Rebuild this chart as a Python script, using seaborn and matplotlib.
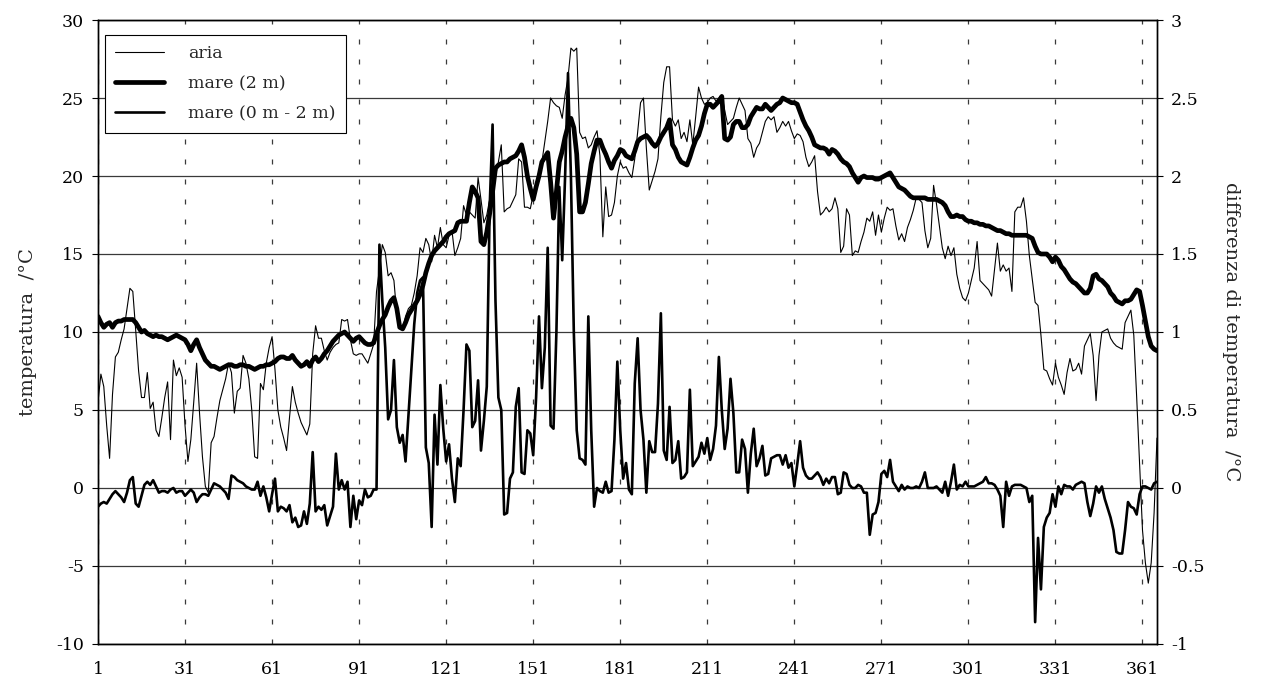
import numpy as np
import pandas as pd
import matplotlib
matplotlib.use("Agg")
import matplotlib.pyplot as plt
import seaborn as sns

# Daily series, day 1 .. 366
days = list(range(1, 367))

# air temperature (°C)
aria = [
    5.5, 7.3, 6.5, 4.0, 1.9, 6.0, 8.4, 8.7, 9.5, 10.2,
    11.5, 12.8, 12.6, 10.1, 7.5, 5.8, 5.8, 7.4, 5.1, 5.5,
    3.7, 3.3, 4.5, 5.8, 6.8, 3.1, 8.2, 7.2, 7.7, 7.1,
    4.0, 1.7, 3.1, 5.5, 8.0, 4.8, 2.0, 0.1, -0.3, 2.9,
    3.3, 4.5, 5.6, 6.3, 7.0, 8.0, 7.4, 4.8, 6.2, 6.4,
    8.5, 8.0, 7.0, 5.0, 2.0, 1.9, 6.7, 6.3, 8.0, 9.0,
    9.7, 7.6, 5.0, 3.9, 3.2, 2.4, 4.5, 6.5, 5.5, 4.8,
    4.2, 3.8, 3.4, 4.1, 8.6, 10.4, 9.6, 9.6, 8.8, 8.2,
    8.7, 9.0, 9.2, 9.3, 10.8, 10.7, 10.8, 9.5, 8.6, 8.5,
    8.6, 8.6, 8.3, 8.0, 8.6, 9.2, 12.6, 14.0, 15.6, 15.1,
    13.6, 13.8, 13.3, 11.1, 10.5, 10.2, 11.0, 11.5, 11.7, 12.5,
    13.6, 15.4, 15.1, 16.0, 15.6, 14.5, 16.2, 15.4, 16.7, 15.6,
    15.4, 16.2, 16.5, 14.9, 15.4, 16.0, 18.1, 17.5, 17.7, 17.5,
    17.3, 19.9, 18.5, 17.0, 17.5, 18.5, 19.0, 20.0, 20.9, 22.0,
    17.7, 17.9, 18.0, 18.4, 18.8, 21.1, 20.9, 18.0, 18.0, 17.9,
    18.8, 19.6, 20.3, 20.9, 22.2, 23.5, 25.0, 24.7, 24.5, 24.4,
    23.7, 25.2, 26.3, 28.2, 28.0, 28.2, 22.8, 22.4, 22.5, 21.8,
    22.0, 22.5, 22.9, 21.3, 16.1, 19.3, 17.4, 17.5, 18.3, 20.0,
    20.9, 20.5, 20.6, 20.2, 19.9, 21.1, 22.8, 24.7, 25.0, 21.8,
    19.1, 19.7, 20.3, 21.1, 23.8, 26.0, 27.0, 27.0, 23.6, 23.2,
    23.6, 22.4, 22.8, 22.2, 23.6, 22.0, 23.8, 25.7, 25.0, 24.6,
    24.7, 25.0, 25.1, 24.8, 25.0, 25.2, 24.2, 23.3, 23.5, 23.7,
    24.4, 25.0, 24.6, 24.2, 22.4, 22.1, 21.2, 21.8, 22.1, 22.8,
    23.5, 23.8, 23.6, 23.8, 22.8, 23.1, 23.5, 23.2, 23.5, 22.9,
    22.4, 22.7, 22.6, 22.2, 21.2, 20.6, 20.9, 21.3, 19.0, 17.5,
    17.7, 18.0, 17.7, 17.9, 18.6, 17.9, 15.1, 15.5, 17.9, 17.5,
    14.9, 15.2, 15.1, 15.8, 16.4, 17.3, 17.1, 17.7, 16.2, 17.5,
    16.4, 17.3, 18.0, 17.8, 17.9, 16.8, 15.9, 16.3, 15.8, 16.7,
    17.2, 17.8, 18.6, 18.5, 18.3, 16.5, 15.4, 16.0, 19.4, 18.2,
    16.8, 15.4, 14.7, 15.5, 14.9, 15.4, 13.7, 12.8, 12.2, 12.0,
    12.5, 13.3, 14.1, 15.8, 13.3, 13.1, 12.9, 12.7, 12.3, 14.0,
    15.7, 13.9, 14.3, 13.9, 14.1, 12.6, 17.7, 18.0, 18.0, 18.6,
    17.1, 14.9, 13.4, 11.9, 11.7, 9.8, 7.6, 7.5, 7.0, 6.6,
    8.0, 7.1, 6.6, 6.0, 7.4, 8.3, 7.5, 7.6, 8.0, 7.3,
    9.1, 9.5, 9.9, 8.5, 5.6, 8.5, 10.0, 10.1, 10.2, 9.6,
    9.3, 9.1, 9.0, 8.9, 10.6, 11.0, 11.4, 9.8, 5.8, 1.5,
    -2.7, -4.8, -6.1, -4.8, -1.6, 3.2,
]

# sea temperature at 2 m depth (°C)
mare_2m = [
    11.0, 10.6, 10.3, 10.5, 10.6, 10.3, 10.6, 10.7, 10.7, 10.8,
    10.8, 10.8, 10.8, 10.6, 10.3, 10.0, 10.1, 9.9, 9.8, 9.7,
    9.8, 9.7, 9.7, 9.6, 9.5, 9.6, 9.7, 9.8, 9.7, 9.6,
    9.5, 9.2, 8.8, 9.2, 9.5, 9.0, 8.6, 8.2, 8.0, 7.8,
    7.8, 7.7, 7.6, 7.7, 7.8, 7.9, 7.9, 7.8, 7.8, 7.9,
    7.9, 7.8, 7.8, 7.7, 7.6, 7.7, 7.8, 7.8, 7.9, 7.9,
    8.0, 8.1, 8.3, 8.4, 8.4, 8.3, 8.3, 8.5, 8.2, 8.0,
    7.8, 7.9, 8.1, 7.8, 8.2, 8.4, 8.1, 8.3, 8.6, 8.8,
    9.1, 9.4, 9.6, 9.8, 9.9, 10.0, 9.8, 9.6, 9.4, 9.6,
    9.7, 9.5, 9.3, 9.2, 9.2, 9.3, 9.9, 10.4, 10.8, 11.1,
    11.6, 12.0, 12.2, 11.5, 10.3, 10.2, 10.6, 11.1, 11.4, 11.7,
    12.0, 12.4, 13.0, 13.8, 14.4, 14.9, 15.2, 15.4, 15.6, 15.8,
    16.1, 16.3, 16.4, 16.5, 17.0, 17.1, 17.1, 17.1, 18.3, 19.3,
    19.0, 18.6, 15.8, 15.6, 16.4, 17.6, 19.0, 20.5, 20.7, 20.8,
    20.9, 20.9, 21.1, 21.2, 21.3, 21.6, 22.0, 21.2, 20.0, 19.2,
    18.5, 19.3, 20.0, 20.9, 21.2, 21.5, 19.6, 17.3, 19.0, 20.9,
    21.6, 22.5, 23.2, 23.7, 23.1, 21.4, 17.7, 17.7, 18.3, 19.5,
    20.8, 21.6, 22.3, 22.3, 21.8, 21.4, 20.9, 20.5, 21.0, 21.3,
    21.7, 21.6, 21.3, 21.2, 21.1, 21.6, 22.2, 22.4, 22.5, 22.6,
    22.4, 22.1, 21.9, 22.1, 22.5, 22.8, 23.1, 23.6, 22.0, 21.7,
    21.2, 20.9, 20.8, 20.7, 21.2, 21.8, 22.3, 22.6, 23.2, 24.0,
    24.6, 24.6, 24.4, 24.6, 24.8, 25.1, 22.4, 22.3, 22.5, 23.3,
    23.5, 23.5, 23.1, 23.1, 23.3, 23.8, 24.1, 24.4, 24.3, 24.3,
    24.6, 24.4, 24.2, 24.4, 24.6, 24.7, 25.0, 24.9, 24.8, 24.7,
    24.7, 24.6, 24.1, 23.6, 23.2, 22.9, 22.5, 22.0, 21.9, 21.8,
    21.8, 21.7, 21.4, 21.7, 21.6, 21.4, 21.1, 20.9, 20.8, 20.6,
    20.2, 19.9, 19.6, 19.9, 20.0, 19.9, 19.9, 19.9, 19.8, 19.8,
    19.9, 20.0, 20.1, 20.2, 19.9, 19.6, 19.3, 19.2, 19.1, 18.9,
    18.7, 18.6, 18.6, 18.6, 18.6, 18.6, 18.5, 18.5, 18.5, 18.5,
    18.4, 18.3, 18.1, 17.7, 17.4, 17.4, 17.5, 17.4, 17.4, 17.2,
    17.1, 17.1, 17.0, 17.0, 16.9, 16.9, 16.8, 16.8, 16.7, 16.6,
    16.5, 16.5, 16.4, 16.3, 16.3, 16.2, 16.2, 16.2, 16.2, 16.2,
    16.2, 16.1, 16.0, 15.5, 15.1, 15.0, 15.0, 15.0, 14.8, 14.5,
    14.8, 14.6, 14.2, 14.0, 13.7, 13.4, 13.2, 13.1, 12.9, 12.7,
    12.5, 12.5, 12.8, 13.6, 13.7, 13.4, 13.3, 13.1, 12.9, 12.5,
    12.3, 12.0, 11.9, 11.8, 12.0, 12.0, 12.1, 12.4, 12.7, 12.6,
    11.7, 10.7, 9.7, 9.1, 8.9, 8.8,
]

# temperature difference between 0 m and 2 m (°C, right axis)
mare_diff = [
    -0.12, -0.10, -0.09, -0.10, -0.07, -0.04, -0.02, -0.04, -0.06, -0.09,
    -0.03, 0.05, 0.07, -0.10, -0.12, -0.05, 0.02, 0.04, 0.02, 0.05,
    0.01, -0.03, -0.02, -0.02, -0.03, -0.01, 0.00, -0.03, -0.02, -0.02,
    -0.05, -0.03, -0.01, -0.03, -0.09, -0.06, -0.04, -0.04, -0.05, -0.01,
    0.03, 0.02, 0.01, -0.01, -0.03, -0.07, 0.08, 0.07, 0.05, 0.04,
    0.03, 0.01, 0.00, -0.01, -0.01, 0.04, -0.05, 0.01, -0.06, -0.15,
    -0.04, 0.06, -0.15, -0.12, -0.13, -0.15, -0.11, -0.22, -0.19, -0.25,
    -0.24, -0.15, -0.23, -0.10, 0.23, -0.15, -0.12, -0.14, -0.11, -0.24,
    -0.18, -0.12, 0.22, -0.01, 0.05, -0.01, 0.04, -0.25, -0.05, -0.20,
    -0.08, -0.11, -0.01, -0.06, -0.05, -0.01, -0.01, 1.56, 1.20, 0.90,
    0.44, 0.50, 0.82, 0.39, 0.29, 0.34, 0.17, 0.46, 0.75, 1.05,
    1.25, 1.33, 1.35, 0.26, 0.16, -0.25, 0.47, 0.15, 0.66, 0.38,
    0.17, 0.28, 0.06, -0.09, 0.19, 0.14, 0.50, 0.92, 0.88, 0.39,
    0.43, 0.69, 0.24, 0.43, 0.65, 1.80, 2.33, 1.20, 0.58, 0.50,
    -0.17, -0.16, 0.06, 0.10, 0.52, 0.64, 0.10, 0.09, 0.37, 0.35,
    0.21, 0.58, 1.10, 0.64, 0.90, 1.54, 0.40, 0.38, 1.00, 1.93,
    1.46, 2.00, 2.66, 2.00, 1.00, 0.37, 0.19, 0.18, 0.15, 1.10,
    0.37, -0.12, 0.00, -0.02, -0.03, 0.04, -0.03, -0.02, 0.31, 0.81,
    0.37, 0.06, 0.16, -0.01, -0.04, 0.67, 0.96, 0.50, 0.31, -0.03,
    0.30, 0.23, 0.23, 0.54, 1.12, 0.24, 0.18, 0.52, 0.16, 0.18,
    0.30, 0.06, 0.07, 0.10, 0.63, 0.14, 0.17, 0.20, 0.29, 0.22,
    0.32, 0.18, 0.25, 0.40, 0.84, 0.50, 0.25, 0.38, 0.70, 0.48,
    0.10, 0.10, 0.31, 0.25, -0.03, 0.22, 0.38, 0.14, 0.19, 0.27,
    0.08, 0.09, 0.19, 0.20, 0.21, 0.21, 0.15, 0.21, 0.13, 0.16,
    0.01, 0.15, 0.30, 0.13, 0.08, 0.06, 0.06, 0.08, 0.10, 0.07,
    0.02, 0.06, 0.03, 0.07, 0.07, -0.04, -0.03, 0.10, 0.09, 0.02,
    0.00, 0.00, 0.02, 0.01, -0.03, -0.03, -0.30, -0.17, -0.16, -0.09,
    0.09, 0.11, 0.07, 0.18, 0.04, 0.01, -0.02, 0.02, -0.01, 0.01,
    0.00, 0.00, 0.01, 0.00, 0.04, 0.10, 0.00, 0.00, 0.00, 0.01,
    -0.01, -0.03, 0.04, -0.05, 0.04, 0.15, -0.01, 0.02, 0.01, 0.04,
    0.01, 0.01, 0.01, 0.02, 0.03, 0.04, 0.07, 0.03, 0.03, 0.02,
    -0.01, -0.05, -0.25, 0.04, -0.05, 0.01, 0.02, 0.02, 0.02, 0.01,
    0.00, -0.09, -0.05, -0.86, -0.32, -0.65, -0.25, -0.19, -0.16, -0.04,
    -0.12, 0.01, -0.04, 0.02, 0.01, 0.01, -0.01, 0.02, 0.03, 0.04,
    0.03, -0.09, -0.18, -0.10, 0.01, -0.03, 0.01, -0.07, -0.13, -0.19,
    -0.27, -0.41, -0.42, -0.42, -0.27, -0.09, -0.12, -0.13, -0.17, -0.04,
    0.01, 0.01, 0.00, -0.01, 0.03, 0.04,
]

x_ticks = [1, 31, 61, 91, 121, 151, 181, 211, 241, 271, 301, 331, 361]
left_ticks = [-10, -5, 0, 5, 10, 15, 20, 25, 30]
right_ticks = [-1, -0.5, 0, 0.5, 1, 1.5, 2, 2.5, 3]
right_labels = ["-1", "-0.5", "0", "0.5", "1", "1.5", "2", "2.5", "3"]

df = pd.DataFrame({"giorno": days, "aria": aria, "mare": mare_2m, "diff": mare_diff})

sns.set_style("white")
plt.rcParams["font.family"] = ["DejaVu Serif"]
plt.rcParams["font.size"] = 12.5

fig, ax = plt.subplots(figsize=(12.66, 6.90), dpi=100)
fig.subplots_adjust(left=0.0774, right=0.9139, top=0.971, bottom=0.0667)
ax2 = ax.twinx()

sns.lineplot(data=df, x="giorno", y="aria", ax=ax, color="black", lw=0.8,
             label="aria", legend=False)
sns.lineplot(data=df, x="giorno", y="mare", ax=ax, color="black", lw=3.4,
             label="mare (2 m)", legend=False)
sns.lineplot(data=df, x="giorno", y="diff", ax=ax2, color="black", lw=1.9,
             label="mare (0 m - 2 m)", legend=False)

ax.set_xlim(1, 366)
ax.set_ylim(-10, 30)
ax2.set_ylim(-1, 3)

ax.set_xticks(x_ticks)
ax.set_yticks(left_ticks)
ax.set_yticklabels([str(v) for v in left_ticks])
ax2.set_yticks(right_ticks)
ax2.set_yticklabels(right_labels)

ax.set_axisbelow(True)
ax.yaxis.grid(True, color="#3a3a3a", lw=0.9, ls="-")
ax.xaxis.grid(True, color="#3a3a3a", lw=0.9, ls=(0, (4, 12)))

for a in (ax, ax2):
    for s in a.spines.values():
        s.set_color("black")
        s.set_linewidth(1.0)
ax.tick_params(axis="both", direction="out", length=4, width=0.8, colors="black",
               labelsize=12.5, pad=6)
ax.tick_params(axis="x", pad=8)
ax2.tick_params(axis="y", direction="out", length=4, width=0.8, colors="black",
                labelsize=12.5, pad=6)

ax.set_xlabel("")
ax.set_ylabel("temperatura  /°C", fontsize=14, labelpad=14)
ax2.set_ylabel("differenza di temperatura  /°C", fontsize=14, rotation=270,
               labelpad=26)

h1, l1 = ax.get_legend_handles_labels()
h2, l2 = ax2.get_legend_handles_labels()
leg = ax2.legend(h1 + h2, l1 + l2, loc="upper left", bbox_to_anchor=(0.0066, 0.976),
                 borderaxespad=0, fancybox=False, framealpha=1, edgecolor="black",
                 fontsize=12.5, handlelength=2.8, handletextpad=1.4,
                 labelspacing=0.75, borderpad=0.6)
leg.get_frame().set_linewidth(0.8)
leg.set_zorder(10)

fig.savefig("out.png", dpi=100)
